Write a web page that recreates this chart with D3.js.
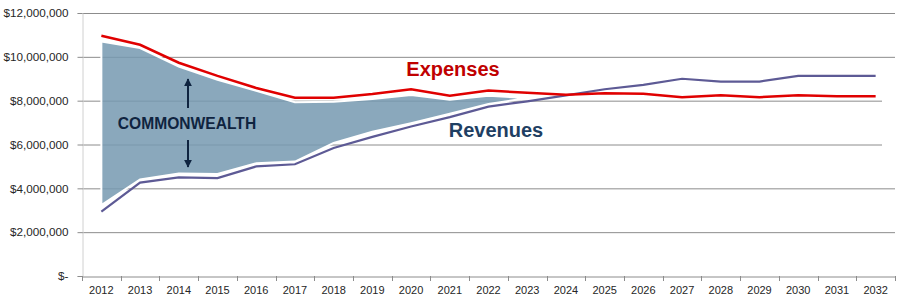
<!DOCTYPE html>
<html>
<head>
<meta charset="utf-8">
<script src="https://cdn.jsdelivr.net/npm/d3@7"></script>
<style>
  body { margin: 0; background: #fff; }
  svg text { font-family: "Liberation Sans", Arial, sans-serif; }
</style>
</head>
<body>
<div id="chart"></div>
<script>
// Datos
const years = ["2012","2013","2014","2015","2016","2017","2018","2019","2020","2021","2022",
  "2023","2024","2025","2026","2027","2028","2029","2030","2031","2032"];
const expenses = [10.96, 10.55, 9.73, 9.13, 8.58, 8.13, 8.13, 8.3, 8.52, 8.23, 8.46,
  8.36, 8.27, 8.34, 8.32, 8.16, 8.25, 8.16, 8.25, 8.2, 8.2].map(v => v * 1e6);
const revenues = [2.94, 4.26, 4.5, 4.47, 5.0, 5.1, 5.84, 6.35, 6.82, 7.25, 7.73,
  7.97, 8.24, 8.52, 8.72, 9.0, 8.87, 8.87, 9.13, 9.13, 9.13].map(v => v * 1e6);
// Banda "Commonwealth" (2012-2023)
const gapTop = [10.7, 10.4, 9.56, 8.95, 8.45, 7.93, 7.95, 8.08, 8.26, 8.04, 8.22, 8.12].map(v => v * 1e6);
const gapBottom = [3.24, 4.41, 4.68, 4.65, 5.14, 5.22, 6.07, 6.58, 6.97, 7.4, 7.85, 8.12].map(v => v * 1e6);
const yTicks = [0, 2e6, 4e6, 6e6, 8e6, 10e6, 12e6];

const W = 900, H = 305;
const margin = { top: 13, right: 5, bottom: 29, left: 82 };
const width = W - margin.left - margin.right,
      height = H - margin.top - margin.bottom;

const svg = d3.select("#chart").append("svg")
    .attr("width", W)
    .attr("height", H);

const g = svg.append("g").attr("transform", `translate(${margin.left},${margin.top})`);

// Escalas
const x = d3.scaleBand().domain(years).range([0, width]);
const y = d3.scaleLinear().domain([0, 12e6]).range([height, 0]);
const cx = d => x(d) + x.bandwidth() / 2;

// Líneas de cuadrícula
g.append("g").selectAll("line")
    .data(yTicks.filter(t => t > 0))
    .enter().append("line")
    .attr("x1", 0)
    .attr("x2", t => (t === 6e6 || t === 8e6) ? width - 13 : width)
    .attr("y1", t => y(t) + 0.5)
    .attr("y2", t => y(t) + 0.5)
    .style("stroke", "#8c8c8c")
    .style("stroke-width", 1);

// Eje Y
const yAxis = g.append("g")
    .attr("transform", "translate(0.5,0)")
    .call(d3.axisLeft(y).tickValues(yTicks).tickSize(5).tickPadding(9)
        .tickFormat(t => t === 0 ? "$-" : "$" + d3.format(",")(t)));
yAxis.select(".domain").style("stroke", "#d0d0d0");
yAxis.selectAll(".tick line").style("stroke", "#8c8c8c");
yAxis.selectAll("text").style("font-size", "11.7px").style("fill", "#262626");
yAxis.selectAll(".tick").filter(t => t === 0).select("text").attr("x", -14);

// Eje X
const xAxis = g.append("g")
    .attr("transform", `translate(0,${height + 0.5})`)
    .call(d3.axisBottom(x).tickSize(0).tickPadding(10));
xAxis.select(".domain").style("stroke", "#8c8c8c");
xAxis.selectAll("text").style("font-size", "11px").style("fill", "#262626");
g.append("g").selectAll("line")
    .data(d3.range(years.length + 1))
    .enter().append("line")
    .attr("x1", i => Math.round(i * x.step()) + 0.5)
    .attr("x2", i => Math.round(i * x.step()) + 0.5)
    .attr("y1", height)
    .attr("y2", height + 5)
    .style("stroke", "#8c8c8c");

// Área "Commonwealth" (semitransparente, deja ver la cuadrícula)
const gapYears = years.slice(0, gapTop.length);
const area = d3.area()
    .x((d, i) => cx(gapYears[i]))
    .y0((d, i) => y(gapBottom[i]))
    .y1(d => y(d));
g.append("path")
    .datum(gapTop)
    .attr("d", area)
    .style("fill", "#7599b0")
    .style("fill-opacity", 0.85)
    .style("stroke", "#fff")
    .style("stroke-width", 2);

// Líneas
const line = d3.line().x((d, i) => cx(years[i])).y(d => y(d));
g.append("path")
    .datum(revenues)
    .attr("d", line)
    .style("fill", "none")
    .style("stroke", "#5d5a95")
    .style("stroke-width", 2.2);
g.append("path")
    .datum(expenses)
    .attr("d", line)
    .style("fill", "none")
    .style("stroke", "#e00000")
    .style("stroke-width", 2.5);

// Etiquetas
svg.append("text")
    .attr("x", 453)
    .attr("y", 76)
    .attr("text-anchor", "middle")
    .style("font-size", "20px")
    .style("font-weight", "bold")
    .style("fill", "#c00000")
    .text("Expenses");

svg.append("text")
    .attr("x", 496)
    .attr("y", 137)
    .attr("text-anchor", "middle")
    .style("font-size", "20px")
    .style("font-weight", "bold")
    .style("fill", "#1f3f63")
    .text("Revenues");

svg.append("text")
    .attr("x", 187)
    .attr("y", 129)
    .attr("text-anchor", "middle")
    .style("font-size", "15.6px")
    .style("font-weight", "bold")
    .style("fill", "#0f2440")
    .text("COMMONWEALTH");

// Flechas
const defs = svg.append("defs");
defs.append("marker")
    .attr("id", "arrow")
    .attr("viewBox", "0 0 10 10")
    .attr("refX", 9).attr("refY", 5)
    .attr("markerWidth", 4).attr("markerHeight", 4)
    .attr("orient", "auto")
    .append("path")
    .attr("d", "M0,0 L10,5 L0,10 z")
    .style("fill", "#0f2440");

svg.append("line")
    .attr("x1", 188).attr("y1", 108)
    .attr("x2", 188).attr("y2", 79)
    .attr("marker-end", "url(#arrow)")
    .style("stroke", "#0f2440").style("stroke-width", 2);
svg.append("line")
    .attr("x1", 188).attr("y1", 140)
    .attr("x2", 188).attr("y2", 167)
    .attr("marker-end", "url(#arrow)")
    .style("stroke", "#0f2440").style("stroke-width", 2);
</script>
</body>
</html>
